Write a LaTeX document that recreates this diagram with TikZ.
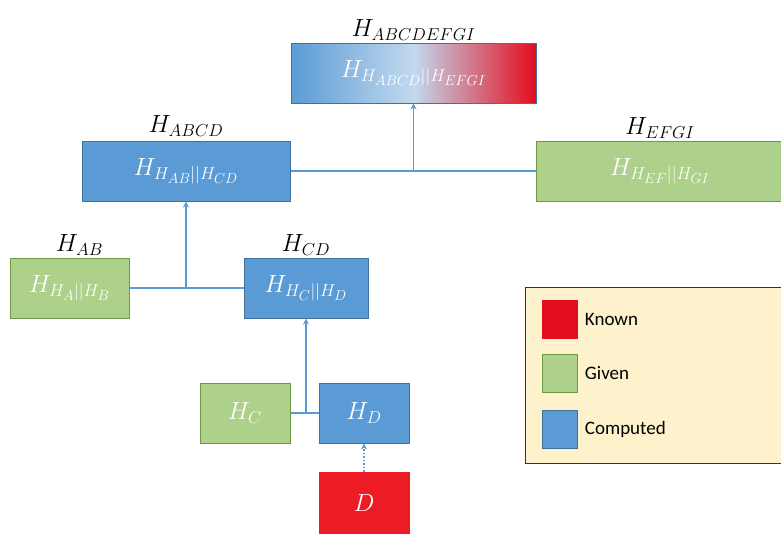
\documentclass[tikz,border=0pt]{standalone}
\usepackage{amsmath}
\usepackage{fontspec}
\setmainfont{Carlito}
\usepackage{xcolor}
\usetikzlibrary{arrows.meta, positioning}

\DeclareMathSizes{24}{24}{18}{14}
\DeclareMathSizes{26}{26}{18}{14}

\definecolor{compblue}{HTML}{5B9BD5}
\definecolor{compborder}{HTML}{41719C}
\definecolor{givengreen}{HTML}{ADD08B}
\definecolor{givenborder}{HTML}{6A9A45}
\definecolor{knownred}{HTML}{E30D1E}
\definecolor{dred}{HTML}{ED1C24}
\definecolor{midblue}{HTML}{C2D9EE}
\definecolor{legendbg}{HTML}{FDF2CC}

\begin{document}
\begin{tikzpicture}[
        x=1pt, y=-1pt,
        box/.style={rectangle, draw, line width=1pt, minimum height=60pt, text=white, font=\fontsize{24}{28}\selectfont},
        computed/.style={box, fill=compblue, draw=compborder},
        given/.style={box, fill=givengreen, draw=givenborder},
        known/.style={box, fill=dred, draw=dred},
        title/.style={font=\fontsize{26}{30}\selectfont, inner sep=1pt},
        key/.style={rectangle, minimum width=35pt, minimum height=38pt, line width=0.8pt},
        link/.style={line width=1.5pt, draw=compblue},
        arrow/.style={link, -{Stealth[length=6pt, width=6pt]}}
    ]
        \useasboundingbox (0,0) rectangle (781,533);

        % Nodes
        \node[computed, minimum width=245pt, left color=compblue, right color=knownred, middle color=midblue] (top) at (413.5,73) {$H_{H_{ABCD}||H_{EFGI}}$};
        \node[computed, minimum width=208pt] (abcd) at (186,171) {$H_{H_{AB}||H_{CD}}$};
        \node[given, minimum width=254pt] (efgi) at (663,171) {\hspace*{-3pt}$H_{H_{EF}||H_{GI}}$\hspace*{3pt}};
        \node[given, minimum width=119pt] (ab) at (69.5,288) {$H_{H_{A}||H_{B}}$};
        \node[computed, minimum width=124pt] (cd) at (306,288) {$H_{H_{C}||H_{D}}$};
        \node[given, minimum width=90pt] (hc) at (245,413) {$H_C$};
        \node[computed, minimum width=90pt] (hd) at (364,413) {$H_D$};
        \node[known, minimum width=90pt, minimum height=62pt] (d) at (364,503) {$D$};

        % Titles
        \node[title, above=1pt of top] (topT) {$H_{ABCDEFGI}$};
        \node[title, above=3pt of abcd] (abcdT) {$H_{ABCD}$};
        \node[title, above=1pt of efgi, xshift=-3pt] (efgiT) {$H_{EFGI}$};
        \node[title, above=1pt of ab, xshift=10pt] (abT) {$H_{AB}$};
        \node[title, above=1pt of cd] (cdT) {$H_{CD}$};

        % Legend
        \draw[fill=legendbg, draw=black!80, line width=0.8pt] (525,287) rectangle (790,463);
        \node[key, fill=knownred, draw=knownred] (kknown) at (559.5,319) {};
        \node[key, fill=givengreen, draw=givenborder] (kgiven) at (559.5,373) {};
        \node[key, fill=compblue, draw=compborder] (kcomp) at (559.5,429) {};
        \node[right=4pt of kknown, font=\fontsize{19}{22}\selectfont] (lknown) {Known};
        \node[right=4pt of kgiven, font=\fontsize{19}{22}\selectfont] (lgiven) {Given};
        \node[right=4pt of kcomp, font=\fontsize{19}{22}\selectfont] (lcomp) {Computed};

        % Arrows
        \draw[link] (ab) -- (cd);
        \draw[arrow] (abcd.south |- ab.east) -- (abcd.south);
        \draw[link] (abcd) -- (efgi);
        \draw[arrow] (top.south |- abcd.east) -- (top.south);
        \draw[link] (hc) -- (hd);
        \draw[arrow] (cd.south |- hc.east) -- (cd.south);
        \draw[arrow, dotted] (d) -- (hd);
    \end{tikzpicture}
\end{document}
